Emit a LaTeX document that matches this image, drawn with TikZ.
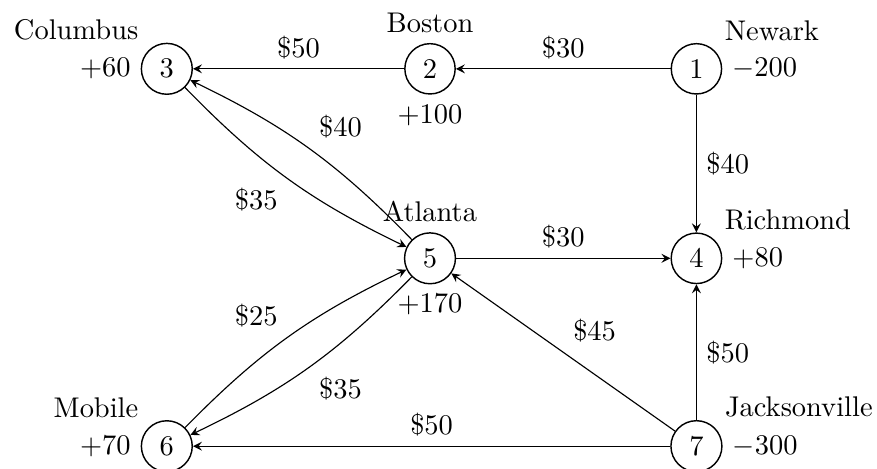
\documentclass[tikz,border=0pt]{standalone}
\usetikzlibrary{positioning}
\begin{document}
\begin{tikzpicture}[
    nodo/.style={circle,draw,line width=0.5pt},
    arco/.style={-stealth,line width=0.4pt},
    curva/.style={-stealth,line width=0.4pt}]

  \useasboundingbox (0,0) rectangle (10.83,-5.78);

  \node[nodo] (n1) at (8.60,-0.85) {1};   % Newark
  \node[nodo] (n2) at (5.31,-0.85) {2};   % Boston
  \node[nodo] (n3) at (2.06,-0.85) {3};   % Columbus
  \node[nodo] (n4) at (8.60,-3.19) {4};   % Richmond
  \node[nodo] (n5) at (5.31,-3.19) {5};   % Atlanta
  \node[nodo] (n6) at (2.06,-5.51) {6};   % Mobile
  \node[nodo] (n7) at (8.60,-5.51) {7};   % Jacksonville

  % nomi delle citta
  \node[above right=0pt of n1] (c1) {Newark};
  \node[above=0pt of n2]       (c2) {Boston};
  \node[above left=0pt of n3]  (c3) {Columbus};
  \node[above right=0pt of n4] (c4) {Richmond};
  \node[above=0pt of n5]       (c5) {Atlanta};
  \node[above left=0pt of n6]  (c6) {Mobile};
  \node[above right=0pt of n7] (c7) {Jacksonville};

  % offerta / domanda
  \node[right=0pt of n1] (b1) {$-200$};
  \node[below=0pt of n2] (b2) {$+100$};
  \node[left=0pt of n3]  (b3) {$+60$};
  \node[right=0pt of n4] (b4) {$+80$};
  \node[below=0pt of n5] (b5) {$+170$};
  \node[left=0pt of n6]  (b6) {$+70$};
  \node[right=0pt of n7] (b7) {$-300$};

  \draw[arco] (n1) -- node[above] {\$30} (n2);
  \draw[arco] (n2) -- node[above] {\$50} (n3);
  \draw[arco] (n1) -- node[right] {\$40} (n4);
  \draw[arco] (n5) -- node[above] {\$30} (n4);
  \draw[arco] (n7) -- node[right] {\$50} (n4);
  \draw[arco] (n7) -- node[above right] {\$45} (n5);
  \draw[arco] (n7) -- node[above] {\$50} (n6);

  \draw[curva] (n5) to[bend right=10] node[above right] {\$40} (n3);
  \draw[curva] (n3) to[bend right=10] node[below left] {\$35} (n5);
  \draw[curva] (n6) to[bend left=10] node[above left] {\$25} (n5);
  \draw[curva] (n5) to[bend left=10] node[below right] {\$35} (n6);

\end{tikzpicture}
\end{document}
